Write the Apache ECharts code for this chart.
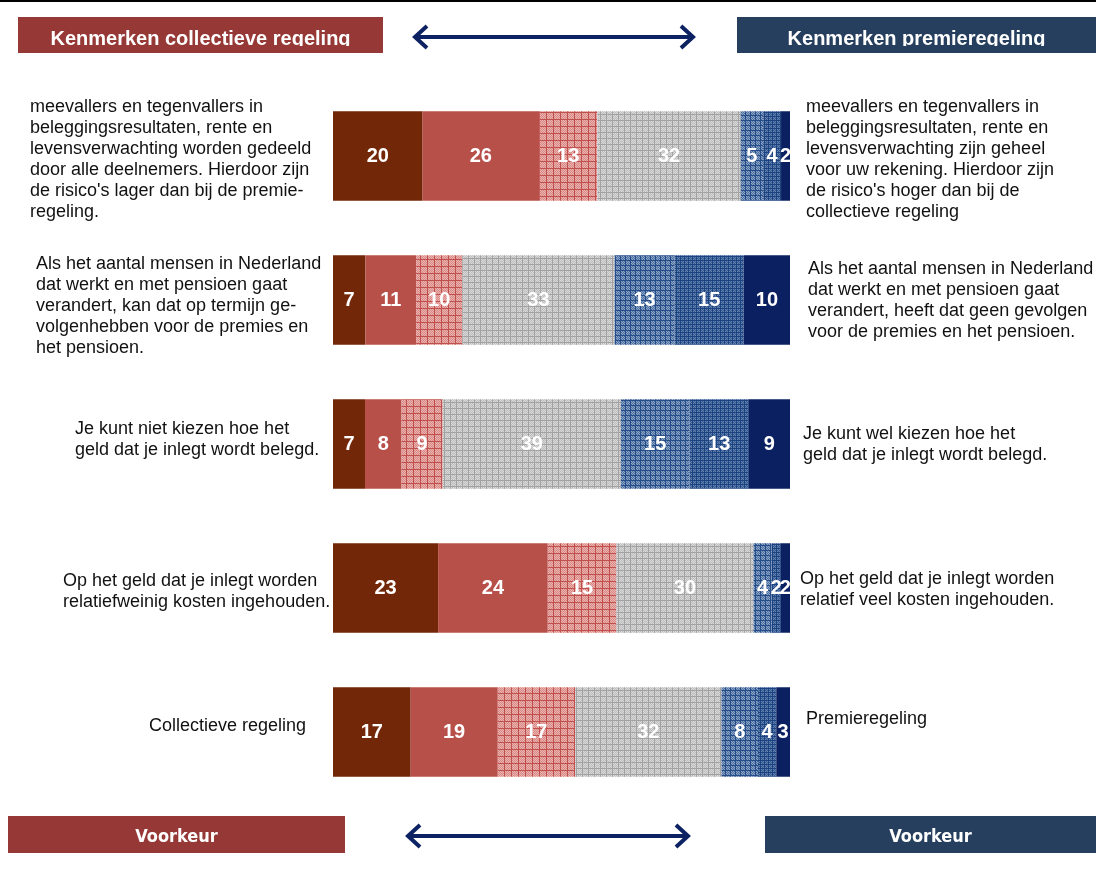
<!DOCTYPE html>
<html>
<head>
<meta charset="utf-8">
<script src="https://cdn.jsdelivr.net/npm/echarts@6/dist/echarts.min.js"></script>
<style>
  html, body { margin: 0; padding: 0; background: #fff; }
  #chart { width: 1096px; height: 882px; }
</style>
</head>
<body>
<div id="chart"></div>
<script>
const rows = ["risico", "aantal mensen", "kiezen", "kosten", "regeling"];
const seriesNames = ["1", "2", "3", "4", "5", "6", "7"];
const s1 = [20, 7, 7, 23, 17];
const s2 = [26, 11, 8, 24, 19];
const s3 = [13, 10, 9, 15, 17];
const s4 = [32, 33, 39, 30, 32];
const s5 = [5, 13, 15, 4, 8];
const s6 = [4, 15, 13, 2, 4];
const s7 = [2, 10, 9, 2, 3];

const leftTexts = [
  ["meevallers en tegenvallers in", "beleggingsresultaten, rente en", "levensverwachting worden gedeeld", "door alle deelnemers. Hierdoor zijn", "de risico's lager dan bij de premie-", "regeling."],
  ["Als het aantal mensen in Nederland", "dat werkt en met pensioen gaat", "verandert, kan dat op termijn ge-", "volgenhebben voor de premies en", "het pensioen."],
  ["Je kunt niet kiezen hoe het", "geld dat je inlegt wordt belegd."],
  ["Op het geld dat je inlegt worden", "relatiefweinig kosten ingehouden."],
  ["Collectieve regeling"]
];
const rightTexts = [
  ["meevallers en tegenvallers in", "beleggingsresultaten, rente en", "levensverwachting zijn geheel", "voor uw rekening. Hierdoor zijn", "de risico's hoger dan bij de", "collectieve regeling"],
  ["Als het aantal mensen in Nederland", "dat werkt en met pensioen gaat", "verandert, heeft dat geen gevolgen", "voor de premies en het pensioen."],
  ["Je kunt wel kiezen hoe het", "geld dat je inlegt wordt belegd."],
  ["Op het geld dat je inlegt worden", "relatief veel kosten ingehouden."],
  ["Premieregeling"]
];
const headerLeft = "Kenmerken collectieve regeling";
const headerRight = "Kenmerken premieregeling";
const footerText = "Voorkeur";

const leftPos = [[30, 97], [36, 254], [75, 419], [63, 571], [149, 716]];
const rightPos = [[806, 97], [808, 259], [803, 424], [800, 569], [806, 709]];

const RED_BOX = "#963836";
const BLUE_BOX = "#263f5f";
const NAVY = "#0d2262";
const FONT = "'Liberation Sans', Arial, sans-serif";

const makeTile = (base, light, line, size) => {
  const c = document.createElement("canvas");
  c.width = size;
  c.height = size;
  const ctx = c.getContext("2d");
  ctx.fillStyle = base;
  ctx.fillRect(0, 0, size, size);
  ctx.fillStyle = light;
  for (let y = 1; y < size; y++) {
    for (let x = 1; x < size; x++) {
      if ((x + y) % 2 === 0) ctx.fillRect(x, y, 1, 1);
    }
  }
  ctx.fillStyle = line;
  ctx.fillRect(0, 0, size, 1);
  ctx.fillRect(0, 0, 1, size);
  return { image: c, repeat: "repeat" };
};

const colors = [
  "#732709",
  "#b8504a",
  makeTile("#d98985", "#eab3b0", "#c0504d", 7),
  makeTile("#bdbdbd", "#d9d9d9", "#a2a2a2", 6),
  makeTile("#4c6f9f", "#8ea6c8", "#234c88", 5),
  makeTile("#345892", "#6683b0", "#1b4380", 4),
  "#0b2060"
];

const allSeries = [s1, s2, s3, s4, s5, s6, s7];
const rowSums = rows.map((r, i) => allSeries.reduce((sum, s) => sum + s[i], 0));

const textBlock = (lines, pos) => ({
  type: "text",
  x: pos[0],
  y: pos[1],
  z: 10,
  style: {
    text: lines.join("\n"),
    font: `18px ${FONT}`,
    fill: "#111",
    lineHeight: 21,
    verticalAlign: "top"
  }
});

const arrow = (x1, x2, y) => [
  {
    type: "line",
    shape: { x1: x1 + 2, y1: y, x2: x2 - 2, y2: y },
    style: { stroke: NAVY, lineWidth: 4 }
  },
  {
    type: "polyline",
    shape: { points: [[x1 + 12, y - 11], [x1, y], [x1 + 12, y + 11]] },
    style: { stroke: NAVY, lineWidth: 4, fill: null }
  },
  {
    type: "polyline",
    shape: { points: [[x2 - 12, y - 11], [x2, y], [x2 - 12, y + 11]] },
    style: { stroke: NAVY, lineWidth: 4, fill: null }
  }
];

const box = (x, y, w, h, color, text, font, ty) => [
  { type: "rect", shape: { x, y, width: w, height: h }, style: { fill: color } },
  {
    type: "text",
    x: x + w / 2,
    y: ty,
    style: { text, font, fill: "#fff", align: "center", verticalAlign: "middle" }
  }
];

// header text looks cut off at the baseline, cover descenders with box colour
const headerCut = (x, w, color) => ({
  type: "rect",
  shape: { x, y: 46, width: w, height: 7 },
  style: { fill: color }
});

const graphics = [
  { type: "line", shape: { x1: 0, y1: 1, x2: 1096, y2: 1 }, style: { stroke: "#000", lineWidth: 2 } },
  ...box(18, 17, 365, 36, RED_BOX, headerLeft, `bold 20px ${FONT}`, 39),
  headerCut(18, 365, RED_BOX),
  ...box(737, 17, 359, 36, BLUE_BOX, headerRight, `bold 20px ${FONT}`, 39),
  headerCut(737, 359, BLUE_BOX),
  ...arrow(415, 693, 37),
  ...box(8, 816, 337, 37, RED_BOX, footerText, `bold 18px 'DejaVu Sans Condensed', ${FONT}`, 837),
  ...box(765, 816, 331, 37, BLUE_BOX, footerText, `bold 18px 'DejaVu Sans Condensed', ${FONT}`, 837),
  ...arrow(408, 688, 836),
  ...leftTexts.map((lines, i) => textBlock(lines, leftPos[i])),
  ...rightTexts.map((lines, i) => textBlock(lines, rightPos[i]))
];

const chart = echarts.init(document.getElementById("chart"));
chart.setOption({
  animation: false,
  grid: { left: 333, right: 306, top: 84, bottom: 78 },
  xAxis: { type: "value", min: 0, max: 100, show: false },
  yAxis: { type: "category", data: rows, inverse: true, show: false },
  series: allSeries.map((s, k) => ({
    name: seriesNames[k],
    type: "bar",
    stack: "total",
    barWidth: "62%",
    data: s.map((v, i) => ({ value: (v / rowSums[i]) * 100, raw: v })),
    itemStyle: { color: colors[k] },
    label: {
      show: true,
      position: "inside",
      color: "#fff",
      fontFamily: FONT,
      fontWeight: "bold",
      fontSize: 20,
      formatter: p => `${p.data.raw}`
    }
  })),
  graphic: graphics
});
</script>
</body>
</html>
